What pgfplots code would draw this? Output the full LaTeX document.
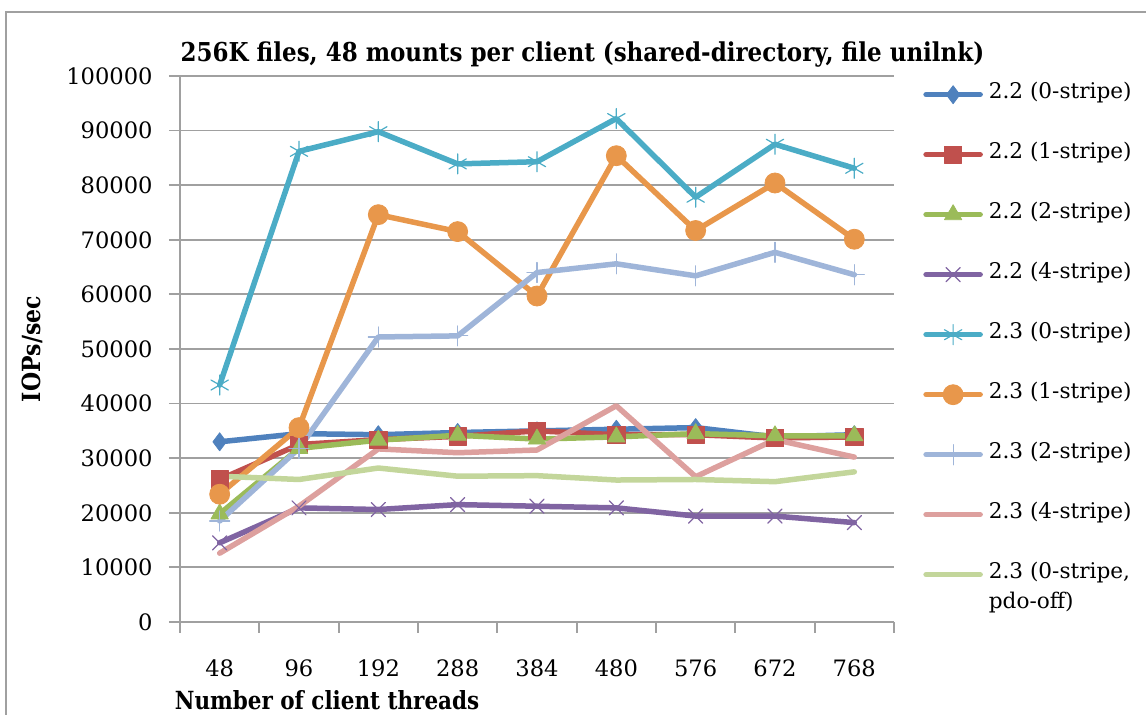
\documentclass[border=0pt]{standalone}
\usepackage{fontspec}
\setmainfont{DejaVu Serif}
\usepackage{pgfplots}
\pgfplotsset{compat=1.18}
\definecolor{cA}{HTML}{4F81BD}
\definecolor{cB}{HTML}{C0504D}
\definecolor{cC}{HTML}{9BBB59}
\definecolor{cD}{HTML}{8064A2}
\definecolor{cE}{HTML}{4BACC6}
\definecolor{cF}{HTML}{E8974B}
\definecolor{cG}{HTML}{9FB5D9}
\definecolor{cH}{HTML}{DDA09E}
\definecolor{cI}{HTML}{C3D69B}
\definecolor{gridgray}{HTML}{A0A0A0}
\newcommand{\lfont}{\fontsize{10.8pt}{13pt}\selectfont}
\begin{document}
\begin{tikzpicture}
\useasboundingbox (0,0) rectangle (573pt,357.5pt);
\draw[color=gridgray, line width=0.6pt] (3pt,-5pt) -- (3pt,351.5pt) -- (580pt,351.5pt);
\begin{axis}[
  at={(90pt,46.5pt)}, anchor=south west,
  scale only axis, width=357pt, height=273pt,
  xmin=-0.5, xmax=8.5, ymin=0, ymax=100000,
  axis lines*=left,
  axis line style={color=gridgray, line width=0.9pt},
  ytick={0,10000,...,100000},
  minor ytick={0,10000,...,100000},
  ymajorgrids,
  major grid style={color=gridgray, line width=0.9pt},
  xtick={0,...,8},
  xticklabels={48,96,192,288,384,480,576,672,768},
  minor xtick={-0.5,0.5,...,8.5},
  tick align=outside,
  major tick length=0pt, minor tick length=5.5pt,
  minor tick style={color=gridgray, line width=0.9pt},
  scaled y ticks=false,
  /pgf/number format/assume math mode=true,
  yticklabel style={/pgf/number format/1000 sep={}, /pgf/number format/fixed, inner sep=0pt, anchor=east, xshift=-13.5pt},
  xticklabel style={inner sep=0pt, anchor=north, yshift=-18.5pt},
  ticklabel style={font=\fontsize{11.3pt}{13.5pt}\selectfont},
  title={\scalebox{0.885}[1]{\bfseries 256K files, 48 mounts per client (shared-directory, file unilnk)}},
  title style={at={(axis description cs:0.5637,1)}, anchor=base, yshift=1pt, inner sep=0pt, font=\fontsize{13pt}{15pt}\selectfont},
  xlabel={\scalebox{0.86}[1]{\bfseries Number of client threads}},
  xlabel style={at={(axis description cs:0.206,0)}, anchor=base, yshift=-44pt, inner sep=0pt, font=\fontsize{12.5pt}{15pt}\selectfont},
  ylabel={\scalebox{0.88}[1]{\bfseries IOPs/sec}},
  ylabel style={at={(axis description cs:-0.1947,0.5)}, anchor=base, inner sep=0pt, font=\fontsize{12.5pt}{15pt}\selectfont},
  legend style={at={(axis description cs:1.0406,0.993)}, anchor=north west, draw=none, fill=none, inner sep=0pt, row sep=15.5pt, column sep=3pt, nodes={inner sep=0pt, text height=9pt, text depth=5.5pt, font=\lfont}},
  legend cell align=left,
  legend image code/.code={\draw[mark repeat=2,mark phase=2] plot coordinates {(0pt,0pt)(13.5pt,0pt)(27pt,0pt)};},
  every axis plot/.append style={line width=2.75pt, line join=round, line cap=round},
]
\addplot[color=cA, mark=diamond*, mark size=4.5pt, mark options={line width=0.4pt}] coordinates {(0,33000)(1,34500)(2,34300)(3,34700)(4,35000)(5,35300)(6,35600)(7,33900)(8,34300)};
\addlegendentry{2.2 (0-stripe)}
\addplot[color=cB, mark=square*, mark size=4.3pt, mark options={line width=0.4pt}] coordinates {(0,26100)(1,32500)(2,33400)(3,34000)(4,35000)(5,34300)(6,34300)(7,33700)(8,33900)};
\addlegendentry{2.2 (1-stripe)}
\addplot[color=cC, mark=triangle*, mark size=5pt, mark options={line width=0.4pt}] coordinates {(0,19800)(1,31800)(2,33300)(3,34200)(4,33500)(5,33900)(6,34500)(7,34100)(8,34100)};
\addlegendentry{2.2 (2-stripe)}
\addplot[color=cD, mark=x, mark size=5pt, mark options={line width=0.6pt}] coordinates {(0,14500)(1,20900)(2,20600)(3,21500)(4,21200)(5,20900)(6,19400)(7,19400)(8,18200)};
\addlegendentry{2.2 (4-stripe)}
\addplot[color=cE, mark=asterisk, mark size=5pt, mark options={line width=0.6pt}] coordinates {(0,43400)(1,86200)(2,89800)(3,83900)(4,84300)(5,92200)(6,77800)(7,87500)(8,83100)};
\addlegendentry{2.3 (0-stripe)}
\addplot[color=cF, mark=*, mark size=5pt, mark options={line width=0.4pt}] coordinates {(0,23400)(1,35600)(2,74600)(3,71500)(4,59700)(5,85400)(6,71700)(7,80400)(8,70100)};
\addlegendentry{2.3 (1-stripe)}
\addplot[color=cG, mark=+, mark size=5pt, mark options={line width=0.6pt}] coordinates {(0,18500)(1,31800)(2,52200)(3,52400)(4,64000)(5,65600)(6,63400)(7,67700)(8,63600)};
\addlegendentry{2.3 (2-stripe)}
\addplot[color=cH, no marks] coordinates {(0,12600)(1,21200)(2,31700)(3,31000)(4,31500)(5,39600)(6,26600)(7,33400)(8,30200)};
\addlegendentry{2.3 (4-stripe)}
\addplot[color=cI, no marks] coordinates {(0,26700)(1,26100)(2,28200)(3,26700)(4,26800)(5,26000)(6,26100)(7,25700)(8,27500)};
\addlegendentry{{\def\arraystretch{1.15}\begin{tabular}[t]{@{}l@{}}2.3 (0-stripe,\\pdo-off)\end{tabular}}}
\end{axis}
\end{tikzpicture}
\end{document}
